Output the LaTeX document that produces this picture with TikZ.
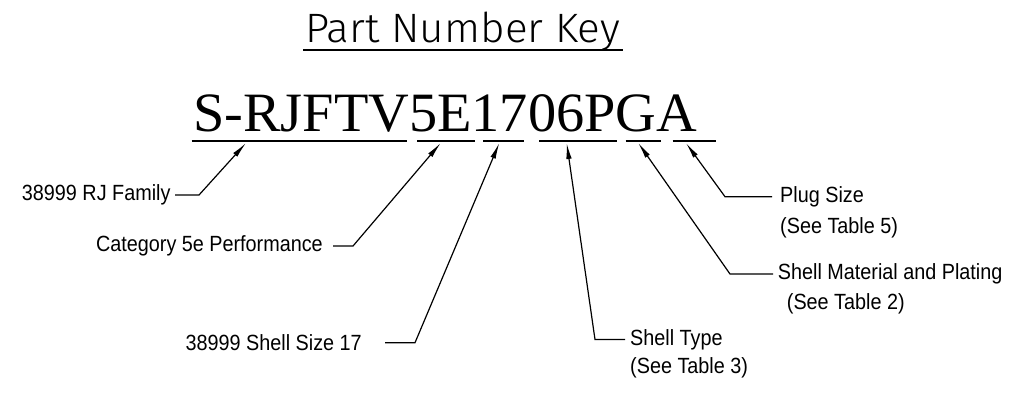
\documentclass[tikz,border=0pt]{standalone}
\usepackage{fontspec}
\usetikzlibrary{arrows.meta}
\newfontfamily\pnserif[FakeStretch=1.015]{Liberation Serif}
\newfontfamily\pnlabel[FakeStretch=0.9]{Liberation Sans}
\newfontfamily\pntitle{Fira Sans Light}
\begin{document}
\begin{tikzpicture}[x=1pt,y=-1pt,
  lbl/.style={inner sep=0pt,font=\pnlabel\fontsize{22}{26}\selectfont},
  conn/.style={line width=1.2pt,-{Latex[length=16pt,width=5.5pt]}},
  uline/.style={line width=2.6pt},
  tline/.style={line width=1.2pt}]
\useasboundingbox (0,0) rectangle (1012,392);
% title
\node[inner sep=0pt,anchor=base west] (title) at (305,42.7) {\resizebox{315pt}{30.5pt}{\pntitle Part Number Key}};
\draw[tline] (303.3,50) -- (623.3,50);
% part number
\node[inner sep=0pt,anchor=base west,font=\pnserif\fontsize{55.5}{60}\selectfont] (pn) at (193,131.7) {S-RJFTV5E1706PGA};
% underlines
\draw[uline] (191.7,141) -- (407.3,141);
\draw[uline] (417.3,141) -- (475,141);
\draw[uline] (483.3,141) -- (524,141);
\draw[uline] (539.3,141) -- (617.3,141);
\draw[uline] (625.7,141) -- (660.7,141);
\draw[uline] (672.7,141) -- (715.7,141);
% tips
\coordinate (t1) at (246,143);
\coordinate (t2) at (440.7,143);
\coordinate (t3) at (499.3,143);
\coordinate (t4) at (566.7,143);
\coordinate (t5) at (638.3,143);
\coordinate (t6) at (686,143);
% elbows
\coordinate (e1) at (199,195);
\coordinate (e2) at (353,246);
\coordinate (e3) at (415,342.7);
\coordinate (e4) at (595,339.5);
\coordinate (e5) at (730,274);
\coordinate (e6) at (725,196.7);
% left labels
\node[lbl,anchor=east] (fam) at (170.7,195) {38999 RJ Family};
\node[lbl,anchor=east] (cat) at (323,246) {Category 5e Performance};
\node[lbl,anchor=east] (size) at (362,342.7) {38999 Shell Size 17};
% right labels
\node[lbl,anchor=west] (stype) at (630,339.5) {Shell Type};
\node[lbl,anchor=base west] (stypeb) at (630,373.3) {(See Table 3)};
\node[lbl,anchor=west] (smat) at (777.7,274) {Shell Material and Plating};
\node[lbl,anchor=base west] (smatb) at (786.7,309.3) {(See Table 2)};
\node[lbl,anchor=west] (plug) at (780,196.7) {Plug Size};
\node[lbl,anchor=base west] (plugb) at (780,233.3) {(See Table 5)};
% connectors
\draw[conn] ([xshift=4.5pt]fam.east) -- (e1) -- (t1);
\draw[conn] ([xshift=10pt]cat.east) -- (e2) -- (t2);
\draw[conn] ([xshift=23pt]size.east) -- (e3) -- (t3);
\draw[conn] ([xshift=-5pt]stype.west) -- (e4) -- (t4);
\draw[conn] ([xshift=-4.7pt]smat.west) -- (e5) -- (t5);
\draw[conn] ([xshift=-8pt]plug.west) -- (e6) -- (t6);
\end{tikzpicture}
\end{document}
